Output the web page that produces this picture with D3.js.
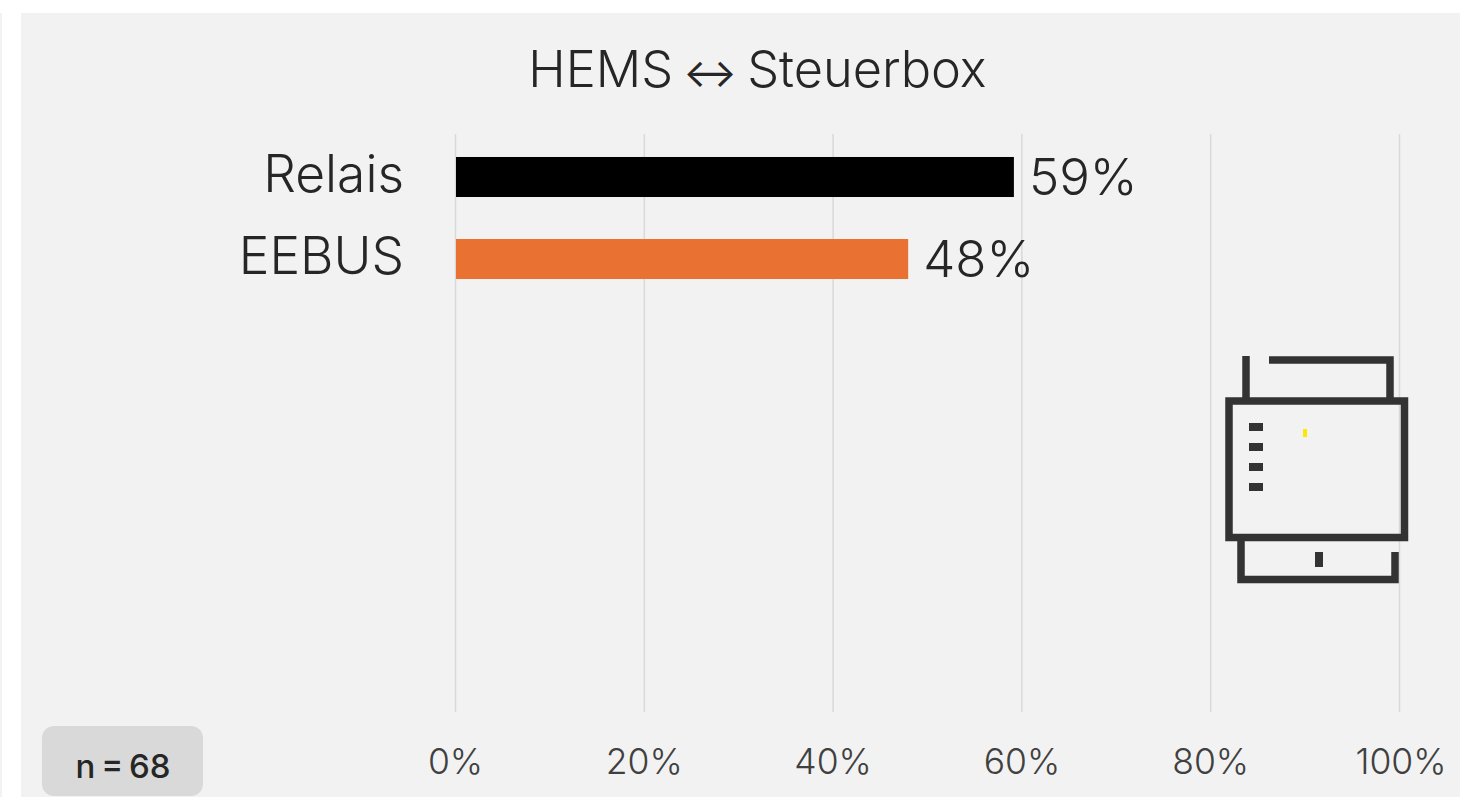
<!DOCTYPE html>
<html><head><meta charset="utf-8">
<script src="https://cdn.jsdelivr.net/npm/d3@7/dist/d3.min.js"></script>
<style>html,body{margin:0;padding:0;background:#fff;overflow:hidden}svg{display:block}text{font-family:Inter,"Noto Sans",sans-serif}</style>
</head><body><svg id="c" width="1460" height="799"></svg>
<script>
const categories = ["Relais", "EEBUS"];
const values = [59.1, 47.9];
const barColors = ["#000000", "#E97132"];
const valueLabels = ["59%", "48%"];
const tickValues = [0, 20, 40, 60, 80, 100];
const titleParts = ["HEMS ", "↔", " Steuerbox"];
const sampleText = "n = 68";

const svg = d3.select("#c");
svg.append("rect").attr("x",21).attr("y",13).attr("width",1439).attr("height",784).attr("fill","#f2f2f2");
svg.append("rect").attr("x",0).attr("y",13).attr("width",2).attr("height",784).attr("fill","#f2f2f2");

const x = d3.scaleLinear().domain([0,100]).range([456,1400]);
const y = d3.scaleBand().domain(categories).range([135.5,300.5]).paddingInner(0.512).paddingOuter(0.262);

svg.append("g").selectAll("line").data(tickValues).join("line")
  .attr("x1",d=>x(d)-0.5).attr("x2",d=>x(d)-0.5).attr("y1",134).attr("y2",712)
  .attr("stroke","#d9d9d9").attr("stroke-width",1.5);

svg.append("g").selectAll("rect").data(categories).join("rect")
  .attr("x",x(0)).attr("y",d=>y(d)).attr("height",y.bandwidth())
  .attr("width",(d,i)=>x(values[i])-x(0)).attr("fill",(d,i)=>barColors[i]);

const light = s => s.attr("font-weight",300).attr("fill","#262626");
light(svg.append("g").selectAll("text").data(categories).join("text"))
  .attr("x",404).attr("y",d=>y(d)+35.5).attr("text-anchor","end").attr("font-size",51.5).text(d=>d);
light(svg.append("g").selectAll("text").data(categories).join("text"))
  .attr("x",(d,i)=>x(values[i])+15).attr("y",d=>y(d)+38).attr("font-size",51).text((d,i)=>valueLabels[i]);
const title = light(svg.append("text")).attr("x",757.5).attr("y",87).attr("text-anchor","middle").attr("font-size",50.5).attr("word-spacing",-4);
title.selectAll("tspan").data(titleParts).join("tspan")
  .attr("font-size",(d,i)=>i===1?40:50.5).attr("font-weight",(d,i)=>i===1?400:300).text(d=>d);
svg.append("g").selectAll("text").data(tickValues).join("text")
  .attr("x",d=>x(d)-0.5+(d===100?1.5:0)).attr("y",774).attr("text-anchor","middle").attr("font-size",35.5).attr("font-weight",300).attr("fill","#404040").text(d=>d+"%");

svg.append("rect").attr("x",42).attr("y",726).attr("width",161).attr("height",70).attr("rx",12).attr("fill","#d9d9d9");
svg.append("text").attr("x",123).attr("y",778).attr("text-anchor","middle").attr("font-size",33).attr("font-weight",450).attr("word-spacing",-3).attr("fill","#262626").text(sampleText);

// device icon
const ic = svg.append("g").attr("fill","none").attr("stroke","#333333").attr("stroke-width",7.5);
ic.append("rect").attr("x",1229).attr("y",401).attr("width",175.5).attr("height",136.5);
ic.append("path").attr("d","M1246 356V401M1269 360H1390V401M1241 541V579.5H1395V552");
const ticks = ic.append("g").attr("fill","#333333").attr("stroke","none");
[423,443,463,483].forEach(v=>ticks.append("rect").attr("x",1249).attr("y",v).attr("width",14).attr("height",8));
ticks.append("rect").attr("x",1315).attr("y",552).attr("width",8).attr("height",15);
svg.append("rect").attr("x",1303).attr("y",429).attr("width",4).attr("height",8).attr("fill","#ffe800");
</script></body></html>
